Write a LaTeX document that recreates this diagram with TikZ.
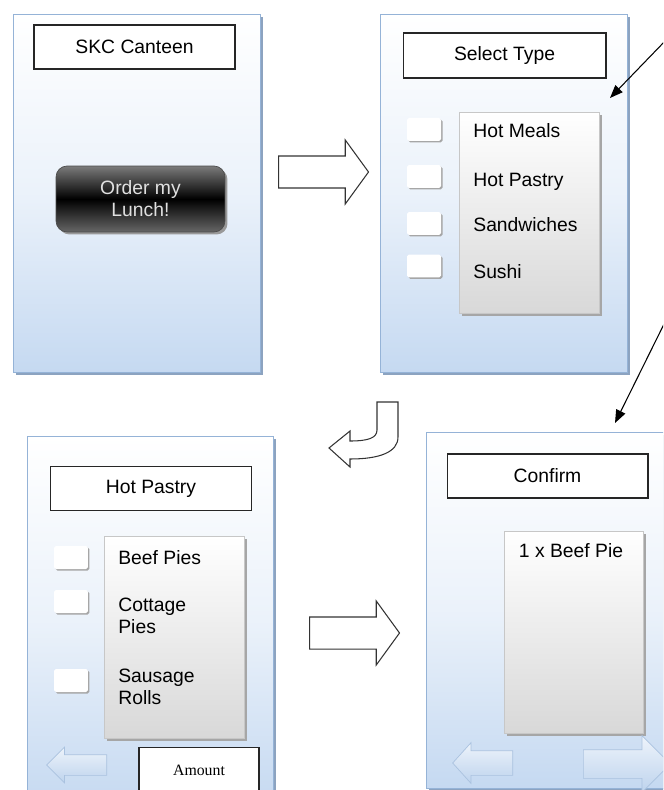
\documentclass[tikz,border=0pt]{standalone}
\usepackage{fontspec}
\setmainfont{Liberation Sans}
\newfontfamily\amountfont{Liberation Serif}
\usetikzlibrary{arrows.meta,positioning,shapes.arrows,shadows}
\definecolor{scrblue}{RGB}{197,217,241}
\definecolor{scrline}{RGB}{149,179,215}
\definecolor{scrshadow}{RGB}{140,163,192}
\definecolor{listgray}{RGB}{216,216,216}

\begin{document}
\begin{tikzpicture}[x=0.02cm, y=-0.02cm,
    screen/.style={draw=scrline, line width=0.5pt, top color=white, bottom color=scrblue,
        middle color=scrblue!35, anchor=north west, inner sep=0, minimum width=4.94cm,
        drop shadow={shadow xshift=0.06cm, shadow yshift=-0.06cm, fill=scrshadow, opacity=1}},
    titlebox/.style={draw=black!85, fill=white, line width=0.6pt, minimum width=4.02cm,
        minimum height=0.88cm, inner sep=0, font=\fontsize{11}{13}\selectfont},
    listbox/.style={draw=black!22, top color=white, bottom color=listgray, anchor=north west,
        inner sep=0, minimum width=2.8cm, minimum height=4.03cm,
        drop shadow={shadow xshift=0.05cm, shadow yshift=-0.05cm, fill=black!35, opacity=1}},
    tick/.style={fill=white, minimum width=0.68cm, minimum height=0.46cm, rounded corners=1pt,
        inner sep=0, drop shadow={shadow xshift=0.03cm, shadow yshift=-0.03cm, fill=black!35, opacity=1}},
    item/.style={anchor=base west, inner sep=0, align=left, font=\fontsize{11}{12.5}\selectfont},
    button/.style={draw=black!70, rounded corners=0.22cm, top color=black!52, bottom color=black!60,
        middle color=black, text=white!88!black, align=center, inner sep=0,
        minimum width=3.38cm, minimum height=1.32cm, font=\fontsize{11}{12.5}\selectfont,
        drop shadow={shadow xshift=0.05cm, shadow yshift=-0.05cm, fill=black!40, opacity=1}},
    hollow/.style={single arrow, draw=black!80, fill=white, line width=0.6pt, inner xsep=0,
        inner ysep=0.31cm, minimum height=1.8cm, single arrow head extend=0.32cm,
        single arrow tip angle=108, anchor=tail},
    nav/.style={single arrow, draw=scrline!80, top color=scrblue!30, bottom color=scrblue!85!scrline,
        inner xsep=0, anchor=tail},
    pointer/.style={-{Triangle[length=2.6mm,width=2mm]}, line width=0.6pt}
]
\useasboundingbox (0,0) rectangle (663,790);
\clip (0,0) rectangle (663,790);

% screen 1: start
\node[screen, minimum height=7.16cm] (home) at (13,14) {};
\node[titlebox] (hometitle) at (134.5,47) {SKC Canteen};
\node[button] (order) at (140.5,199) {Order my\\Lunch!};

% screen 2: type
\node[screen, minimum height=7.16cm] (types) at (380,14) {};
\node[titlebox, minimum width=4.06cm, minimum height=0.9cm] (typestitle) at (504.5,55.5) {Select Type};
\node[listbox] (typelist) at (459,112) {};
\foreach \ty/\by/\t [count=\i] in {129.5/138/Hot Meals, 176.5/187/Hot Pastry,
    223.5/232/Sandwiches, 266/278/Sushi}{
  \node[tick] (typetick\i) at (424,\ty) {};
  \node[item] (typeitem\i) at (473,\by) {\t};
}

% screen 3: pastry
\node[screen, minimum width=4.92cm, minimum height=7.4cm] (pastry) at (27,436) {};
\node[titlebox] (pastrytitle) at (151,488.5) {Hot Pastry};
\node[listbox, minimum height=4.04cm] (pastrylist) at (104,536) {};
\foreach \ty/\by/\t [count=\i] in {557.5/564/Beef Pies, 601.5/633/Cottage\\Pies,
    680.5/704/Sausage\\Rolls}{
  \node[tick] (pastrytick\i) at (71,\ty) {};
  \node[item] (pastryitem\i) at (118,\by) {\t};
}
\node[nav, shape border rotate=180, minimum height=1.2cm, inner ysep=0.2cm,
    single arrow head extend=0.15cm, single arrow tip angle=90] (back1) at (107,765) {};
\node[draw=black!85, fill=white, line width=0.6pt, inner sep=0, minimum width=2.4cm,
    minimum height=0.9cm, font=\amountfont\fontsize{9}{10}\selectfont] (amount) at (199,770) {Amount};

% screen 4: confirm
\node[screen, minimum height=7.12cm] (confirm) at (426,432) {};
\node[titlebox] (confirmtitle) at (547.5,476) {Confirm};
\node[listbox, minimum width=2.78cm, minimum height=4.04cm] (orderlist) at (504,531) {};
\node[anchor=base, inner sep=0, font=\fontsize{11}{13}\selectfont] (orderline) at (571,557) {1 x Beef Pie};
\node[nav, shape border rotate=180, minimum height=1.2cm, inner ysep=0.24cm,
    single arrow head extend=0.16cm, single arrow tip angle=96] (back2) at (513,763) {};
\node[nav, minimum height=1.74cm, inner ysep=0.28cm,
    single arrow head extend=0.28cm, single arrow tip angle=90] (next) at (583,764) {};

% flow between screens
\node[hollow] (go1) at (278,172) {};
\node[hollow] (go2) at (309,633) {};
\draw[draw=black!80, fill=white, line width=0.6pt] (377,402) -- (398,402) -- (398,437)
    .. controls (398,452) and (380,459) .. (350,459) -- (350,467) -- (329,448)
    -- (350,431) -- (350,441) .. controls (368,441) and (377,438) .. (377,430) -- cycle;

% pointers
\coordinate (ptr1) at (668,38);
\coordinate (typesin) at (610,98);
\coordinate (ptr2) at (668,316);
\coordinate (confirmin) at (615,423);
\draw[pointer] (ptr1) -- (typesin);
\draw[pointer] (ptr2) -- (confirmin);
\end{tikzpicture}
\end{document}
